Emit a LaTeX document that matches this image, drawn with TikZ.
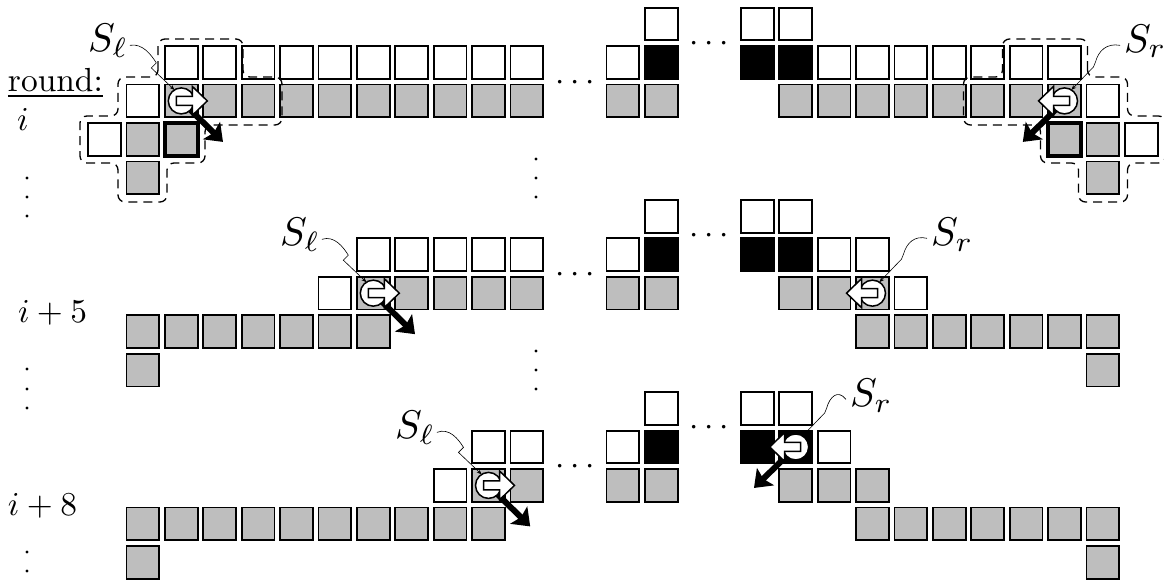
\documentclass[tikz,border=0pt]{standalone}
\usetikzlibrary{arrows.meta}
\definecolor{cellgray}{RGB}{190,190,190}
\tikzset{
  cellbase/.style={rectangle,draw=black,line width=1.8pt,minimum size=32.7pt,inner sep=0pt,outer sep=0pt},
  wcell/.style={cellbase,fill=white},
  gcell/.style={cellbase,fill=cellgray},
  kcell/.style={cellbase,fill=black},
  bcell/.style={cellbase,fill=cellgray,line width=3.8pt},
  lab/.style={scale=3.34,inner sep=0pt,outer sep=0pt},
  slab/.style={scale=4.0,inner sep=0pt,outer sep=0pt},
  vdot/.style={circle,fill=black,inner sep=0pt,minimum size=3.4pt},
  dashbox/.style={draw=black,line width=1.3pt,dash pattern=on 9pt off 6pt,rounded corners=7pt},
  ring/.style={circle,draw=black,fill=white,line width=1.5pt,minimum size=26pt,inner sep=0pt,outer sep=0pt},
  wharrow/.style={draw=black,fill=white,line width=1.5pt,line join=miter},
  kharrow/.style={draw=black,line width=6pt,-{Stealth[length=16pt,width=24pt,inset=3pt]}},
  wire/.style={draw=black,line width=0.6pt,-{Stealth[length=5pt,width=4pt]}}
}
\newcommand{\cellrow}[3]{\foreach \c in {#3}{\node[#1] (cell-\c-#2) at ({104.5+19.2*\c},{24+38.45*#2}) {};}}
\newcommand{\whitearrow}[2]{\begin{scope}[shift={(#1.center)},xscale=#2]
  \draw[wharrow] (-5,-4.5) -- (11,-4.5) -- (11,-14.5) -- (26,0) -- (11,14.5) -- (11,4.5) -- (-5,4.5) -- cycle;
\end{scope}}
\newcommand{\wireL}[2]{\draw[wire] ([shift={(2,5)}]#1.east) .. controls ([shift={(-39,-58)}]#2.center) and ([shift={(-30,-46)}]#2.center) .. ([shift={(-25,-38)}]#2.center) -- ([shift={(-30,-33)}]#2.center) -- (#2.122);}
\newcommand{\wireR}[2]{\draw[wire] ([shift={(-4,4)}]#1.west) .. controls ([shift={(42,-58)}]#2.center) and ([shift={(34,-50)}]#2.center) .. ([shift={(31,-39)}]#2.center) -- ([shift={(29,-34)}]#2.center) -- (#2.58);}
\newcommand{\dashshape}{(158,77) -- (158,39) -- (243,39) -- (243,77) -- (282,77) -- (282,125) -- (205,125) -- (205,163) -- (167,163) -- (167,202) -- (118,202) -- (118,163) -- (80,163) -- (80,116) -- (118,116) -- (118,77) -- cycle}
\begin{document}
\begin{tikzpicture}[x=1pt,y=-1pt]
\useasboundingbox (0,0) rectangle (1164,581);
% round i
\cellrow{wcell}{0}{29,34,36}
\cellrow{wcell}{1}{4,6,...,22}
\cellrow{wcell}{1}{27}
\cellrow{kcell}{1}{29,34,36}
\cellrow{wcell}{1}{38,40,...,50}
\cellrow{wcell}{2}{2,52}
\cellrow{gcell}{2}{4,6,...,22}
\cellrow{gcell}{2}{27,29}
\cellrow{gcell}{2}{36,38,...,50}
\cellrow{wcell}{3}{0,54}
\cellrow{gcell}{3}{2,52}
\cellrow{bcell}{3}{4,50}
\cellrow{gcell}{4}{2,52}
% round i+5
\cellrow{wcell}{5}{29,34,36}
\cellrow{wcell}{6}{14,16,...,22}
\cellrow{wcell}{6}{27,38,40}
\cellrow{kcell}{6}{29,34,36}
\cellrow{wcell}{7}{12,42}
\cellrow{gcell}{7}{14,16,...,22}
\cellrow{gcell}{7}{27,29,36,38,40}
\cellrow{gcell}{8}{2,4,...,14}
\cellrow{gcell}{8}{40,42,...,52}
\cellrow{gcell}{9}{2,52}
% round i+8
\cellrow{wcell}{10}{29,34,36}
\cellrow{wcell}{11}{20,22,27,38}
\cellrow{kcell}{11}{29,34,36}
\cellrow{wcell}{12}{18}
\cellrow{gcell}{12}{20,22,27,29,36,38,40}
\cellrow{gcell}{13}{2,4,...,20}
\cellrow{gcell}{13}{40,42,...,52}
\cellrow{gcell}{14}{2,52}
% dashed outlines
\draw[dashbox] \dashshape;
\begin{scope}[shift={(1245.5,0)},xscale=-1]
\draw[dashbox] \dashshape;
\end{scope}
% texts
\node[lab,anchor=base west] (round) at (8,91) {\underline{round:}};
\node[lab,anchor=base west] (ri) at (17,130) {$i$};
\node[lab,anchor=base west] (ri5) at (18,322) {$i+5$};
\node[lab,anchor=base west] (ri8) at (8,515) {$i+8$};
\node[slab,anchor=base west] (Sl1) at (88,51) {$S_\ell$};
\node[slab,anchor=base west] (Sl2) at (280,245) {$S_\ell$};
\node[slab,anchor=base west] (Sl3) at (395,438) {$S_\ell$};
\node[slab,anchor=base west] (Sr1) at (1124,52) {$S_r$};
\node[slab,anchor=base west] (Sr2) at (931,245) {$S_r$};
\node[slab,anchor=base west] (Sr3) at (850,406) {$S_r$};
\foreach \n/\x/\y in {a/575/90.3,b/709/51.6,c/575/282.3,d/709/243.6,e/575/474.3,f/709/435.6}
  {\node[lab,anchor=base] (hd\n) at (\x,\y) {$\cdots$};}
% vertical dots
\foreach \n/\x/\y in {a/27/178,b/27/197,c/27/216,d/536/159,e/536/178,f/536/197,g/27/369,h/27/389,j/27/408,k/536/351,l/536/370,m/536/389,n/27/552,o/27/571}
  {\node[vdot] (vd\n) at (\x,\y) {};}
% black arrows
\coordinate (t1) at ([shift={(41.7,41)}]cell-4-2.center);
\coordinate (t2) at ([shift={(41.7,41)}]cell-14-7.center);
\coordinate (t3) at ([shift={(41.7,41)}]cell-20-12.center);
\coordinate (t4) at ([shift={(-41.7,41)}]cell-50-2.center);
\coordinate (t6) at ([shift={(-41.7,41)}]cell-36-11.center);
\draw[kharrow] (cell-4-2.center) -- (t1);
\draw[kharrow] (cell-14-7.center) -- (t2);
\draw[kharrow] (cell-20-12.center) -- (t3);
\draw[kharrow] (cell-50-2.center) -- (t4);
\draw[kharrow] (cell-36-11.center) -- (t6);
% rings and white arrows
\node[ring] (c1) at (cell-4-2) {};
\node[ring] (c2) at (cell-14-7) {};
\node[ring] (c3) at (cell-20-12) {};
\node[ring] (c4) at (cell-50-2) {};
\node[ring] (c5) at (cell-40-7) {};
\node[ring] (c6) at (cell-36-11) {};
\whitearrow{c1}{1}
\whitearrow{c2}{1}
\whitearrow{c3}{1}
\whitearrow{c4}{-1}
\whitearrow{c5}{-1}
\whitearrow{c6}{-1}
% wires
\wireL{Sl1}{c1}
\wireL{Sl2}{c2}
\wireL{Sl3}{c3}
\wireR{Sr1}{c4}
\wireR{Sr2}{c5}
\wireR{Sr3}{c6}
\end{tikzpicture}
\end{document}
